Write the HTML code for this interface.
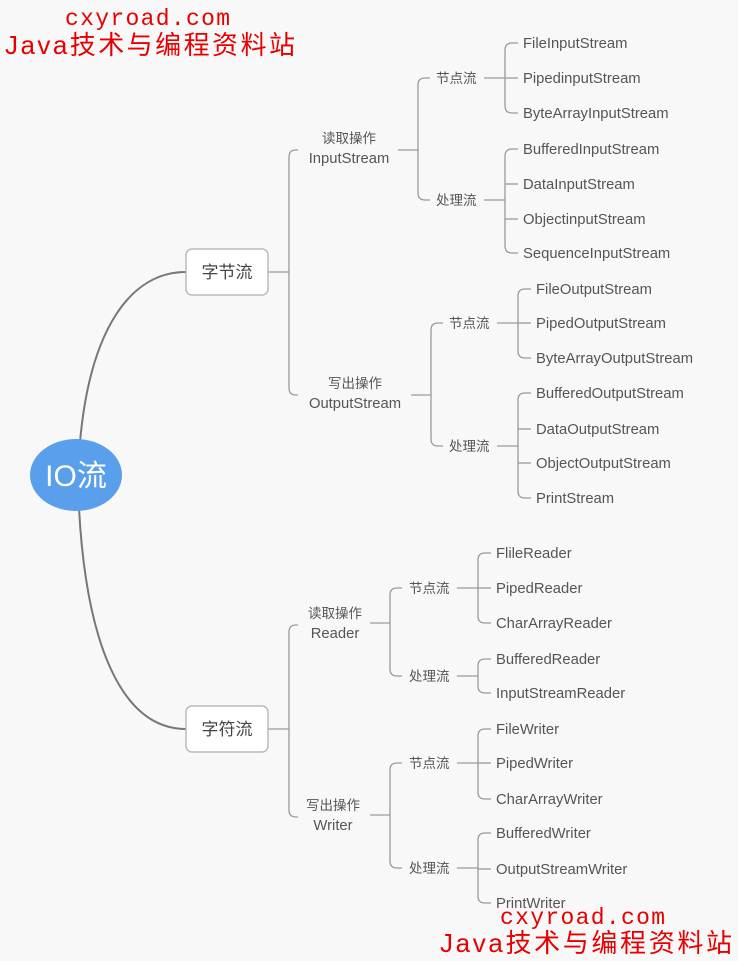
<!DOCTYPE html>
<html><head><meta charset="utf-8"><style>
html,body{margin:0;padding:0;background:#f8f8f8;}
svg{display:block}
.s{font-family:"Liberation Sans","Noto Sans CJK SC",sans-serif;}
.m{font-family:"Liberation Mono",monospace;}
</style></head><body>
<svg id="s" width="738" height="961" xmlns="http://www.w3.org/2000/svg">
<rect width="738" height="961" fill="#f8f8f8"/>
<g id="g" fill="none" stroke="#9a9a9a" stroke-width="1.3"></g>
<g id="t" class="s" fill="#555" font-size="14.8"></g>
<path d="M80,442 C90,330 130,272 186,272" fill="none" stroke="#777" stroke-width="2"/>
<path d="M79,508 C86,640 120,729 186,729" fill="none" stroke="#777" stroke-width="2"/>
<ellipse cx="76" cy="475" rx="46" ry="36" fill="#5a9fec"/>
<text class="s" x="76" y="486" text-anchor="middle" font-size="30" fill="#fff">IO流</text>
<rect x="186" y="249" width="82" height="46" rx="6" fill="#fff" stroke="#bbb" stroke-width="1.5"/>
<text class="s" x="227" y="278" text-anchor="middle" font-size="17" fill="#444">字节流</text>
<rect x="186" y="706" width="82" height="46" rx="6" fill="#fff" stroke="#bbb" stroke-width="1.5"/>
<text class="s" x="227" y="735" text-anchor="middle" font-size="17" fill="#444">字符流</text>
<g fill="#e60000">
<text class="m" x="65" y="25" font-size="23" textLength="165">cxyroad.com</text>
<text class="s" x="5" y="54" font-size="26" textLength="290" lengthAdjust="spacing">Java技术与编程资料站</text>
<text class="m" x="500" y="924" font-size="23" textLength="165">cxyroad.com</text>
<text class="s" x="440" y="952" font-size="26" textLength="292" lengthAdjust="spacing">Java技术与编程资料站</text>
</g>
</svg>
<script>
var g=document.getElementById('g'),t=document.getElementById('t'),NS='http://www.w3.org/2000/svg';
function P(d){var p=document.createElementNS(NS,'path');p.setAttribute('d',d);g.appendChild(p);}
function T(x,y,s,a,sz){var e=document.createElementNS(NS,'text');e.setAttribute('x',x);e.setAttribute('y',y+5);if(a)e.setAttribute('text-anchor',a);if(sz)e.setAttribute('font-size',sz);e.textContent=s;t.appendChild(e);}
function B(x0,py,bx,ys,ex){
  P('M'+x0+','+py+' L'+bx+','+py);
  var y1=ys[0],y2=ys[ys.length-1],r=7;
  P('M'+ex+','+y1+' L'+(bx+r)+','+y1+' Q'+bx+','+y1+' '+bx+','+(y1+r)+' L'+bx+','+(y2-r)+' Q'+bx+','+y2+' '+(bx+r)+','+y2+' L'+ex+','+y2);
  for(var i=1;i<ys.length-1;i++)P('M'+bx+','+ys[i]+' L'+ex+','+ys[i]);
}
B(268,272,289,[150,395],298);
B(268,729,289,[625,817],298);
T(349,138,'读取操作','middle',13.5);T(349,158,'InputStream','middle');
T(355,383,'写出操作','middle',13.5);T(355,403,'OutputStream','middle');
T(335,613,'读取操作','middle',13.5);T(335,633,'Reader','middle');
T(333,805,'写出操作','middle',13.5);T(333,825,'Writer','middle');
B(398,150,418,[78,200],430);
T(436,78,'节点流',null,13.5);T(436,200,'处理流',null,13.5);
B(411,395,431,[323,446],443);
T(449,323,'节点流',null,13.5);T(449,446,'处理流',null,13.5);
B(370,623,390,[588,676],402);
T(409,588,'节点流',null,13.5);T(409,676,'处理流',null,13.5);
B(370,815,390,[763,868],402);
T(409,763,'节点流',null,13.5);T(409,868,'处理流',null,13.5);
function L(px,py,bx,items){var ys=items.map(function(a){return a[1]});B(px,py,bx,ys,bx+13);items.forEach(function(a){T(bx+18,a[1],a[0]);});}
L(484,78,505,[['FileInputStream',43],['PipedinputStream',78],['ByteArrayInputStream',113]]);
L(484,200,505,[['BufferedInputStream',149],['DataInputStream',184],['ObjectinputStream',219],['SequenceInputStream',253]]);
L(497,323,518,[['FileOutputStream',289],['PipedOutputStream',323],['ByteArrayOutputStream',358]]);
L(497,446,518,[['BufferedOutputStream',393],['DataOutputStream',429],['ObjectOutputStream',463],['PrintStream',498]]);
L(457,588,478,[['FlileReader',553],['PipedReader',588],['CharArrayReader',623]]);
L(457,676,478,[['BufferedReader',659],['InputStreamReader',693]]);
L(457,763,478,[['FileWriter',729],['PipedWriter',763],['CharArrayWriter',799]]);
L(457,868,478,[['BufferedWriter',833],['OutputStreamWriter',869],['PrintWriter',903]]);
</script>
</body></html>
